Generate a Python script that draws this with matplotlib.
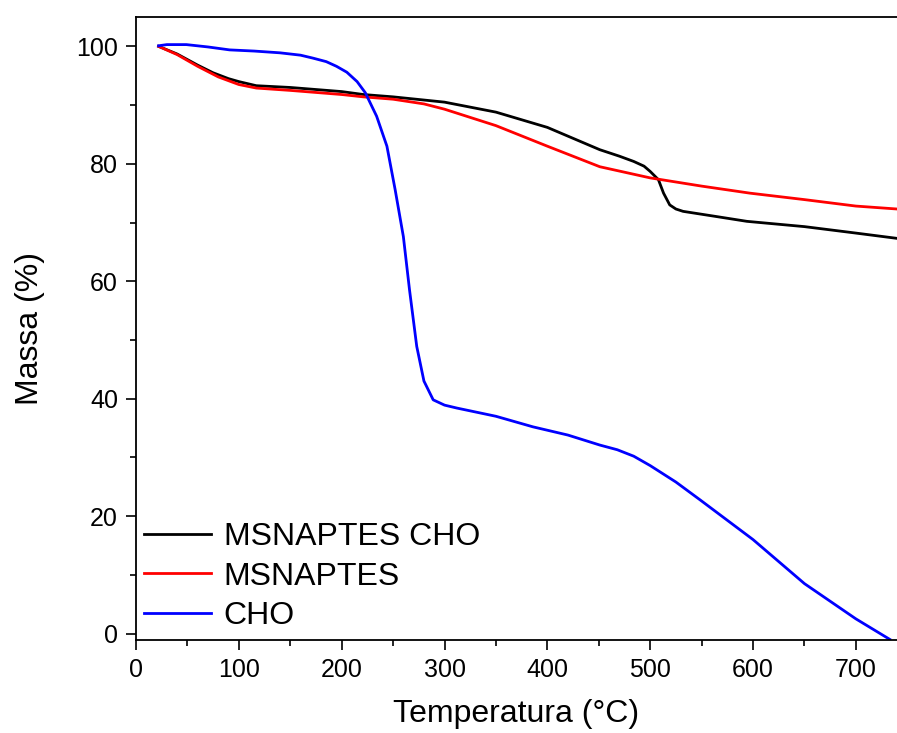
import matplotlib
matplotlib.use('Agg')
import matplotlib.pyplot as plt
from matplotlib.ticker import MultipleLocator
import numpy as np

plt.rcParams['font.family'] = ['Liberation Sans', 'DejaVu Sans']

# MSNAPTES CHO (black)
t_black = [22, 40, 60, 75, 90, 100, 117, 150, 200, 221, 250, 300, 350, 400,
           451, 470, 484, 494, 500, 508, 513, 519, 525, 532, 565, 594, 650,
           700, 740]
m_black = [100, 98.7, 96.8, 95.5, 94.5, 94.0, 93.3, 93.0, 92.3, 91.8, 91.4,
           90.5, 88.8, 86.2, 82.4, 81.3, 80.4, 79.6, 78.7, 77.3, 75.0, 73.0,
           72.3, 71.9, 71.0, 70.2, 69.3, 68.2, 67.3]

# MSNAPTES (red)
t_red = [22, 40, 60, 80, 100, 117, 150, 200, 221, 250, 280, 300, 350, 400,
         451, 500, 550, 597, 650, 700, 740]
m_red = [100, 98.6, 96.6, 94.8, 93.5, 92.9, 92.5, 91.8, 91.4, 91.0, 90.2,
         89.3, 86.5, 83.0, 79.5, 77.6, 76.2, 75.0, 73.9, 72.8, 72.3]

# CHO (blue)
t_blue = [22, 30, 49, 70, 91, 115, 140, 160, 172, 185, 195, 205, 215, 223,
          234, 244, 252, 260, 266, 273, 280, 289, 300, 312, 350, 386, 420,
          451, 468, 484, 500, 525, 549, 600, 650, 700, 733]
m_blue = [100.1, 100.3, 100.3, 99.9, 99.4, 99.2, 98.9, 98.5, 98.0, 97.4,
          96.6, 95.6, 94.0, 92.1, 88.1, 83.0, 75.6, 67.6, 58.5, 48.9, 43.0,
          39.8, 38.9, 38.4, 37.0, 35.2, 33.8, 32.1, 31.3, 30.2, 28.6, 25.8,
          22.7, 16, 8.5, 2.5, -1.0]

fig = plt.figure(figsize=(8.97, 7.33), dpi=100)
ax = fig.add_axes([0.1516, 0.1269, 0.8484, 0.8499])

ax.plot(t_black, m_black, color='black', lw=2, label='MSNAPTES CHO')
ax.plot(t_red, m_red, color='#ff0000', lw=2, label='MSNAPTES')
ax.plot(t_blue, m_blue, color='#0000ff', lw=2, label='CHO')

ax.set_xlim(0, 740)
ax.set_ylim(-1.1, 105)
ax.xaxis.set_major_locator(MultipleLocator(100))
ax.xaxis.set_minor_locator(MultipleLocator(50))
ax.yaxis.set_major_locator(MultipleLocator(20))
ax.yaxis.set_minor_locator(MultipleLocator(10))
ax.tick_params(which='major', direction='out', length=7, width=1.2,
               labelsize=18, pad=6)
ax.tick_params(which='minor', direction='out', length=4, width=1.2)
ax.spines['right'].set_visible(False)
for s in ['left', 'bottom', 'top']:
    ax.spines[s].set_linewidth(1.3)

ax.set_xlabel('Temperatura (°C)', fontsize=23, labelpad=12)
ax.set_ylabel('Massa (%)', fontsize=23, labelpad=22)

ax.legend(loc='lower left', frameon=False, fontsize=23, handlelength=2.1,
          handletextpad=0.4, labelspacing=0.29, borderaxespad=0.1,
          bbox_to_anchor=(-0.0105, -0.011))

fig.savefig('out.png', dpi=100)
